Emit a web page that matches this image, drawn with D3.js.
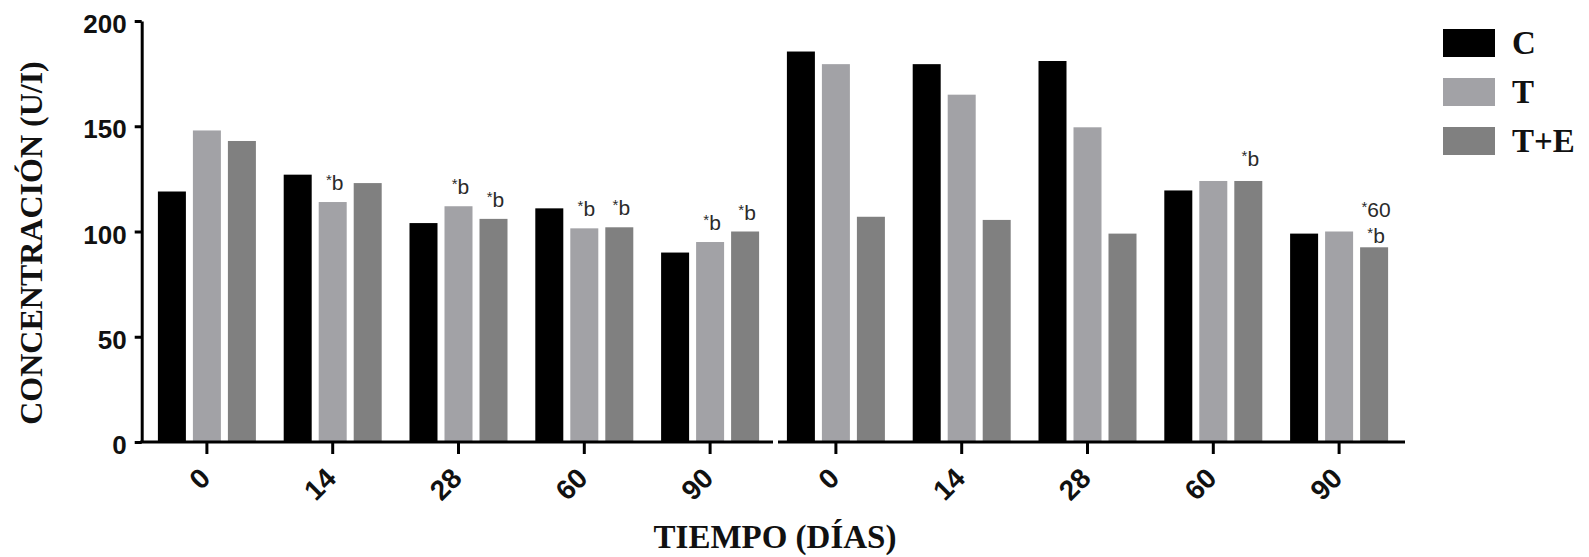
<!DOCTYPE html>
<html>
<head>
<meta charset="utf-8">
<script src="https://cdn.jsdelivr.net/npm/d3@7/dist/d3.min.js"></script>
<style>
  html, body { margin: 0; padding: 0; background: #fff; }
  svg { display: block; }
</style>
</head>
<body>
<svg id="chart" width="1589" height="557"></svg>
<script>
// ---- data ----
const days = ["0", "14", "28", "60", "90"];
const panels = ["izq", "der"];
const seriesNames = ["C", "T", "T+E"];
const seriesColors = ["#000000", "#a2a2a6", "#808080"];
const yTicks = [0, 50, 100, 150, 200];

const leftC  = [119, 127, 104, 111, 90];
const leftT  = [148, 114, 112, 101.5, 95];
const leftTE = [143, 123, 106, 102, 100];

const rightC  = [185.5, 179.5, 181, 119.5, 99];
const rightT  = [179.5, 165, 149.5, 124, 100];
const rightTE = [107, 105.5, 99, 124, 92.5];

// annotations: panel, day, series, text lines (top to bottom)
const annotations = [
  { panel: "izq", day: "14", series: "T",   lines: ["b"] },
  { panel: "izq", day: "28", series: "T",   lines: ["b"] },
  { panel: "izq", day: "28", series: "T+E", lines: ["b"] },
  { panel: "izq", day: "60", series: "T",   lines: ["b"] },
  { panel: "izq", day: "60", series: "T+E", lines: ["b"] },
  { panel: "izq", day: "90", series: "T",   lines: ["b"] },
  { panel: "izq", day: "90", series: "T+E", lines: ["b"] },
  { panel: "der", day: "60", series: "T+E", lines: ["b"] },
  { panel: "der", day: "90", series: "T+E", lines: ["60", "b"] }
];

// ---- build table ----
const seriesByPanel = {
  izq: { "C": leftC, "T": leftT, "T+E": leftTE },
  der: { "C": rightC, "T": rightT, "T+E": rightTE }
};
const groups = [];
panels.forEach(p => days.forEach((d, i) => {
  groups.push({
    key: p + "-" + d, panel: p, day: d,
    values: seriesNames.map(s => ({ series: s, value: seriesByPanel[p][s][i] }))
  });
}));

// ---- layout ----
const svg = d3.select("#chart");
const axisX = 141.7, axisRight = 1405;
const x0 = d3.scaleBand().domain(groups.map(g => g.key)).range([144, 1402]).padding(0);
const x1 = d3.scaleBand().domain(seriesNames).range([0, 98]).paddingInner(0.2).paddingOuter(0);
const innerOffset = (x0.bandwidth() - 98) / 2;
const y = d3.scaleLinear().domain([0, 200]).range([442, 21]);
const color = d3.scaleOrdinal().domain(seriesNames).range(seriesColors);

// bars
const g = svg.append("g");
const grp = g.selectAll("g.grp").data(groups).join("g")
  .attr("class", "grp")
  .attr("transform", d => `translate(${x0(d.key) + innerOffset},0)`);
grp.selectAll("rect").data(d => d.values).join("rect")
  .attr("x", d => x1(d.series))
  .attr("width", x1.bandwidth())
  .attr("y", d => y(d.value))
  .attr("height", d => y(0) - y(d.value))
  .attr("fill", d => color(d.series));

// y axis
const yAxis = svg.append("g")
  .attr("transform", `translate(${axisX},0)`)
  .call(d3.axisLeft(y).tickValues(yTicks).tickSize(7).tickSizeOuter(0).tickPadding(8));
yAxis.select(".domain").attr("stroke", "#000").attr("stroke-width", 3);
yAxis.selectAll(".tick line").attr("stroke", "#000").attr("stroke-width", 3);
yAxis.selectAll(".tick text")
  .attr("font-family", "'Liberation Sans', Arial, sans-serif")
  .attr("font-weight", "bold")
  .attr("font-size", 26)
  .attr("fill", "#111")
  .attr("dy", "0.45em");

// x axis
const xAxis = svg.append("g")
  .attr("transform", `translate(0,${y(0)})`)
  .call(d3.axisBottom(x0).tickSize(12).tickFormat(k => k.split("-")[1]));
xAxis.select(".domain").remove();
xAxis.selectAll(".tick line").attr("stroke", "#000").attr("stroke-width", 3);
xAxis.selectAll(".tick text")
  .attr("font-family", "'Liberation Sans', Arial, sans-serif")
  .attr("font-weight", "bold")
  .attr("font-size", 28)
  .attr("fill", "#111")
  .attr("text-anchor", "end")
  .attr("dy", 0)
  .attr("y", 0)
  .attr("transform", "translate(5,38) rotate(-45)");

// x axis line with break between panels
const breakX = (x0(panels[0] + "-" + days[days.length - 1]) + x0.bandwidth() + x0(panels[1] + "-" + days[0])) / 2;
const axisSegments = [[axisX - 1.5, breakX], [breakX + 5, axisRight]];
svg.append("g").selectAll("line").data(axisSegments).join("line")
  .attr("x1", d => d[0]).attr("x2", d => d[1])
  .attr("y1", y(0)).attr("y2", y(0))
  .attr("stroke", "#000").attr("stroke-width", 3);

// annotations
const annG = svg.append("g")
  .attr("font-family", "'Liberation Sans', Arial, sans-serif")
  .attr("fill", "#2a2a2a");
annotations.forEach(a => {
  const grpD = groups.find(gg => gg.panel === a.panel && gg.day === a.day);
  const v = grpD.values.find(vv => vv.series === a.series).value;
  const cx = x0(grpD.key) + innerOffset + x1(a.series) + x1.bandwidth() / 2 + 2;
  const n = a.lines.length;
  const bottom = n > 1 ? y(v) - 4 : y(v) - (a.panel === "der" ? 15 : 12);
  a.lines.forEach((txt, i) => {
    const t = annG.append("text")
      .attr("x", cx)
      .attr("y", bottom - (n - 1 - i) * 26)
      .attr("text-anchor", "middle")
      .attr("font-size", 21);
    t.append("tspan").attr("font-size", 15).attr("dy", -5).text("*");
    t.append("tspan").attr("dy", 5).text(txt);
  });
});

// legend
const leg = svg.append("g").selectAll("g").data(seriesNames).join("g")
  .attr("transform", (d, i) => `translate(1443,${29 + i * 49})`);
leg.append("rect").attr("width", 52).attr("height", 28).attr("fill", d => color(d));
leg.append("text")
  .attr("x", 69).attr("y", 25)
  .attr("font-family", "'Liberation Serif', 'Times New Roman', serif")
  .attr("font-weight", "bold")
  .attr("font-size", 33)
  .attr("fill", "#111")
  .text(d => d);

// axis titles
svg.append("text")
  .attr("transform", "translate(42,243) rotate(-90)")
  .attr("text-anchor", "middle")
  .attr("font-family", "'Liberation Serif', 'Times New Roman', serif")
  .attr("font-weight", "bold")
  .attr("font-size", 32)
  .attr("fill", "#111")
  .text("CONCENTRACIÓN (U/I)");

svg.append("text")
  .attr("x", 775).attr("y", 548)
  .attr("text-anchor", "middle")
  .attr("font-family", "'Liberation Serif', 'Times New Roman', serif")
  .attr("font-weight", "bold")
  .attr("font-size", 33)
  .attr("fill", "#111")
  .text("TIEMPO (DÍAS)");
</script>
</body>
</html>
